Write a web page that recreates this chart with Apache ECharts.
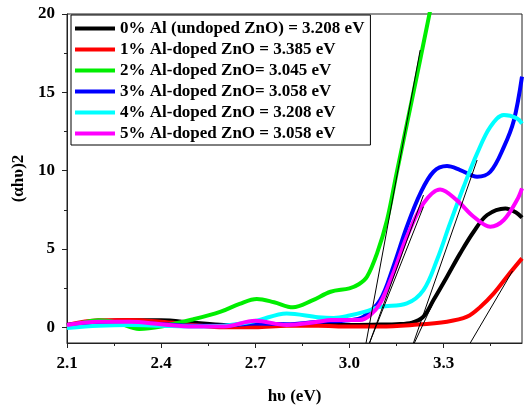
<!DOCTYPE html>
<html>
<head>
<meta charset="utf-8">
<script src="https://cdn.jsdelivr.net/npm/echarts@6/dist/echarts.min.js"></script>
<style>html,body{margin:0;padding:0;background:#fff}#c{width:525px;height:406px}</style>
</head>
<body>
<div id="c"></div>
<script>
// Series names (legend)
var seriesNames = [
  '0% Al (undoped ZnO) = 3.208 eV',
  '1% Al-doped ZnO = 3.385 eV',
  '2% Al-doped ZnO= 3.045 eV',
  '3% Al-doped ZnO= 3.058 eV',
  '4% Al-doped ZnO = 3.208 eV',
  '5% Al-doped ZnO = 3.058 eV'
];
var seriesColors = ['#000000', '#ff0000', '#00ee00', '#0000ff', '#00ffff', '#ff00ff'];

// Curves: [hv (eV), (alpha h v)^2]
var al0 = [[2.1,0.15],[2.2,0.35],[2.3,0.45],[2.4,0.45],[2.5,0.3],[2.6,0.15],[2.7,0.1],[2.8,0.15],[2.9,0.15],[3.0,0.15],[3.1,0.18],[3.15,0.2],[3.2,0.3],[3.236,0.68],[3.268,1.74],[3.311,3.23],[3.353,4.72],[3.396,6.1],[3.439,7.17],[3.497,7.59],[3.53,7.35],[3.55,7.0]];
var al1 = [[2.1,0.15],[2.2,0.45],[2.3,0.47],[2.4,0.35],[2.5,0.15],[2.6,0.0],[2.7,0.0],[2.8,0.1],[2.9,0.1],[3.0,0.05],[3.1,0.05],[3.2,0.15],[3.311,0.36],[3.375,0.68],[3.417,1.3],[3.46,2.17],[3.502,3.23],[3.55,4.4]];
var al2 = [[2.1,0.1],[2.15,0.3],[2.2,0.45],[2.26,0.3],[2.33,-0.1],[2.4,0.05],[2.5,0.5],[2.59,1.0],[2.65,1.5],[2.705,1.81],[2.76,1.6],[2.82,1.28],[2.88,1.7],[2.94,2.27],[3.0,2.49],[3.03,2.75],[3.056,3.23],[3.088,4.72],[3.12,6.85],[3.15,9.8],[3.2,14.6],[3.25,19.5],[3.28,22.5]];
var al3 = [[2.1,0.15],[2.2,0.3],[2.3,0.3],[2.4,0.2],[2.5,0.1],[2.6,0.1],[2.7,0.25],[2.8,0.2],[2.9,0.35],[3.0,0.45],[3.045,0.68],[3.098,1.74],[3.14,3.87],[3.183,6.42],[3.226,8.55],[3.268,9.93],[3.311,10.29],[3.353,10.04],[3.407,9.61],[3.449,9.93],[3.492,11.5],[3.524,13.2],[3.55,16.0]];
var al4 = [[2.1,-0.05],[2.2,0.1],[2.3,0.15],[2.4,0.1],[2.5,0.05],[2.6,0.1],[2.7,0.4],[2.8,0.89],[2.9,0.65],[2.95,0.6],[3.0,0.75],[3.05,1.0],[3.098,1.31],[3.183,1.53],[3.236,2.38],[3.279,4.3],[3.32,6.6],[3.364,8.97],[3.407,11.1],[3.449,12.8],[3.492,13.55],[3.534,13.34],[3.55,13.0]];
var al5 = [[2.1,0.15],[2.2,0.35],[2.3,0.35],[2.4,0.2],[2.5,0.05],[2.6,0.05],[2.7,0.42],[2.8,0.15],[2.9,0.35],[2.94,0.47],[3.034,0.47],[3.066,0.78],[3.098,1.53],[3.14,3.45],[3.183,5.78],[3.236,7.91],[3.289,8.8],[3.342,8.12],[3.396,7.06],[3.449,6.42],[3.492,6.85],[3.534,8.12],[3.55,8.87]];
var curves = [al0, al1, al2, al3, al4, al5];

// Tangent (extrapolation) lines
var tangent2 = [[3.053,-1],[3.2255,17.7]];
var tangent3 = [[3.064,-1],[3.236,8.44]];
var tangent5 = [[3.064,-1],[3.236,7.7]];
var tangent4 = [[3.204,-1],[3.407,10.68]];
var tangent0 = [[3.207,-1],[3.30,3.0]];
var tangent1 = [[3.385,-1],[3.52,3.6]];
var tangents = [tangent0, tangent1, tangent2, tangent3, tangent4, tangent5];

// Ticks
var xMajorTicks = [2.1, 2.4, 2.7, 3.0, 3.3];
var xMinorTicks = [2.25, 2.55, 2.85, 3.15, 3.45];
var yMajorTicks = [0, 5, 10, 15, 20];
var yMinorTicks = [2.5, 7.5, 12.5, 17.5];

var FONT = '"Liberation Serif", "Times New Roman", serif';
var chart = echarts.init(document.getElementById('c'), null, {renderer: 'canvas'});

var series = [];
curves.forEach(function (d, i) {
  series.push({
    name: seriesNames[i], type: 'line', data: d, smooth: 0.35, showSymbol: false, symbol: 'none',
    xAxisIndex: 0, yAxisIndex: 0, clip: true,
    lineStyle: {color: seriesColors[i], width: 4}, itemStyle: {color: seriesColors[i]}, z: 2
  });
});
tangents.forEach(function (d) {
  series.push({
    type: 'line', data: d, showSymbol: false, symbol: 'none', xAxisIndex: 0, yAxisIndex: 0, clip: true,
    lineStyle: {color: '#000', width: 1}, z: 3, silent: true
  });
});

var axisLineStyle = {color: '#222', width: 1};
chart.setOption({
  animation: false,
  backgroundColor: '#fff',
  grid: {left: 67, right: 3, top: 14, bottom: 63, outerBoundsMode: 'none', containLabel: false,
    show: true, borderColor: '#222', borderWidth: 1, backgroundColor: 'transparent'},
  legend: {
    data: seriesNames, left: 71, top: 15, orient: 'vertical',
    backgroundColor: '#fff', borderColor: '#000', borderWidth: 1,
    padding: [5, 6, 3, 4], itemGap: 4, itemWidth: 40, itemHeight: 4, icon: 'rect',
    textStyle: {fontFamily: FONT, fontWeight: 'bold', fontSize: 17, color: '#000', lineHeight: 17}
  },
  xAxis: [{
    type: 'value', min: 2.1, max: 3.55, position: 'bottom',
    name: 'h\u03c5 (eV)', nameLocation: 'middle', nameGap: 45,
    nameTextStyle: {fontFamily: FONT, fontWeight: 'bold', fontSize: 17, color: '#000'},
    axisLine: {show: true, onZero: false, lineStyle: axisLineStyle},
    axisTick: {show: true, length: 5, customValues: xMajorTicks, lineStyle: axisLineStyle},
    axisLabel: {customValues: xMajorTicks, margin: 12, fontFamily: FONT, fontWeight: 'bold', fontSize: 17, color: '#000',
      formatter: function (v) { return v.toFixed(1); }},
    splitLine: {show: false}
  }, {
    type: 'value', min: 2.1, max: 3.55, position: 'bottom', gridIndex: 0,
    axisLine: {show: false, onZero: false},
    axisTick: {show: true, length: 3, customValues: xMinorTicks, lineStyle: axisLineStyle},
    axisLabel: {show: false}, splitLine: {show: false}
  }],
  yAxis: [{
    type: 'value', min: -1, max: 20, position: 'left',
    name: '(\u03b1h\u03c5)2', nameLocation: 'middle', nameGap: 34, nameRotate: 90,
    nameTextStyle: {fontFamily: FONT, fontWeight: 'bold', fontSize: 17, color: '#000'},
    axisLine: {show: true, onZero: false, lineStyle: axisLineStyle},
    axisTick: {show: true, length: 5, customValues: yMajorTicks, lineStyle: axisLineStyle},
    axisLabel: {customValues: yMajorTicks, margin: 12, fontFamily: FONT, fontWeight: 'bold', fontSize: 17, color: '#000'},
    splitLine: {show: false}
  }, {
    type: 'value', min: -1, max: 20, position: 'left', gridIndex: 0,
    axisLine: {show: false, onZero: false},
    axisTick: {show: true, length: 3, customValues: yMinorTicks, lineStyle: axisLineStyle},
    axisLabel: {show: false}, splitLine: {show: false}
  }],
  series: series
});
</script>
</body>
</html>
